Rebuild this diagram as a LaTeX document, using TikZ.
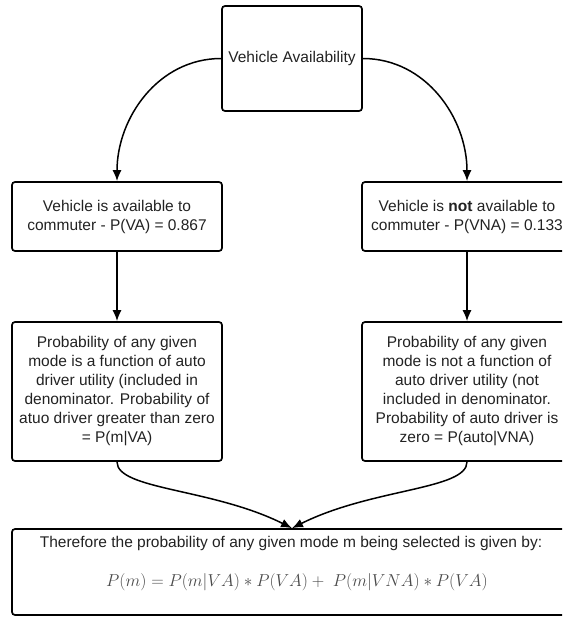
\documentclass[tikz,border=0pt]{standalone}
\usepackage{fontspec}
\setmainfont{Liberation Sans}
\usetikzlibrary{arrows.meta}
\definecolor{inkgray}{HTML}{222222}
\definecolor{formgray}{HTML}{4A4A4A}
\tikzset{
  box/.style={draw,rounded corners=3pt,line width=1.7pt,align=center,inner sep=0pt,
    text=inkgray,font=\fontsize{15.5}{19}\selectfont},
  smallbox/.style={box,minimum width=210pt,minimum height=69pt},
  bigbox/.style={box,minimum width=210pt,minimum height=139pt},
  link/.style={->,line width=1.5pt}
}
\begin{document}
\begin{tikzpicture}[x=1pt,y=-1pt,>={Latex[length=11pt,width=9pt]}]
\clip (0,0) rectangle (562,617);
% top
\node[box,minimum width=140pt,minimum height=105pt](va) at (292,58.5){Vehicle Availability};
% availability
\node[smallbox](avail) at (117,216.5){Vehicle is available to\\commuter - P(VA) = 0.867};
\node[smallbox](notavail) at (467,216.5){Vehicle is \textbf{not} available to\\commuter - P(VNA) = 0.133};
% mode probabilities
\node[bigbox](modeva) at (117,391.5){Probability of any given\\mode is a function of auto\\driver utility (included in\\denominator. Probability of\\atuo driver greater than zero\\= P(m|VA)};
\node[bigbox](modevna) at (467,391.5){Probability of any given\\mode is not a function of\\auto driver utility (not\\included in denominator.\\Probability of auto driver is\\zero = P(auto|VNA)};
% result
\node[box,minimum width=560pt,minimum height=86pt](result) at (292,572){};
\node[text=inkgray,font=\fontsize{15.5}{19}\selectfont](therefore) at (291,543){Therefore the probability of any given mode m being selected is given by:};
\node[text=formgray,font=\fontsize{17}{20}\selectfont](formula) at (297,582){$P(m) = P(m|VA) \ast P(VA) +\ P(m|VNA) \ast P(VA)$};
% connectors
\draw[link](va.west) to[out=180,in=90] (avail.north);
\draw[link](va.east) to[out=0,in=90] (notavail.north);
\draw[link](avail) -- (modeva);
\draw[link](notavail) -- (modevna);
\draw[link](modeva.south) .. controls +(0,28) and +(-80,-40) .. (result.north);
\draw[link](modevna.south) .. controls +(0,28) and +(80,-40) .. (result.north);
\end{tikzpicture}
\end{document}
